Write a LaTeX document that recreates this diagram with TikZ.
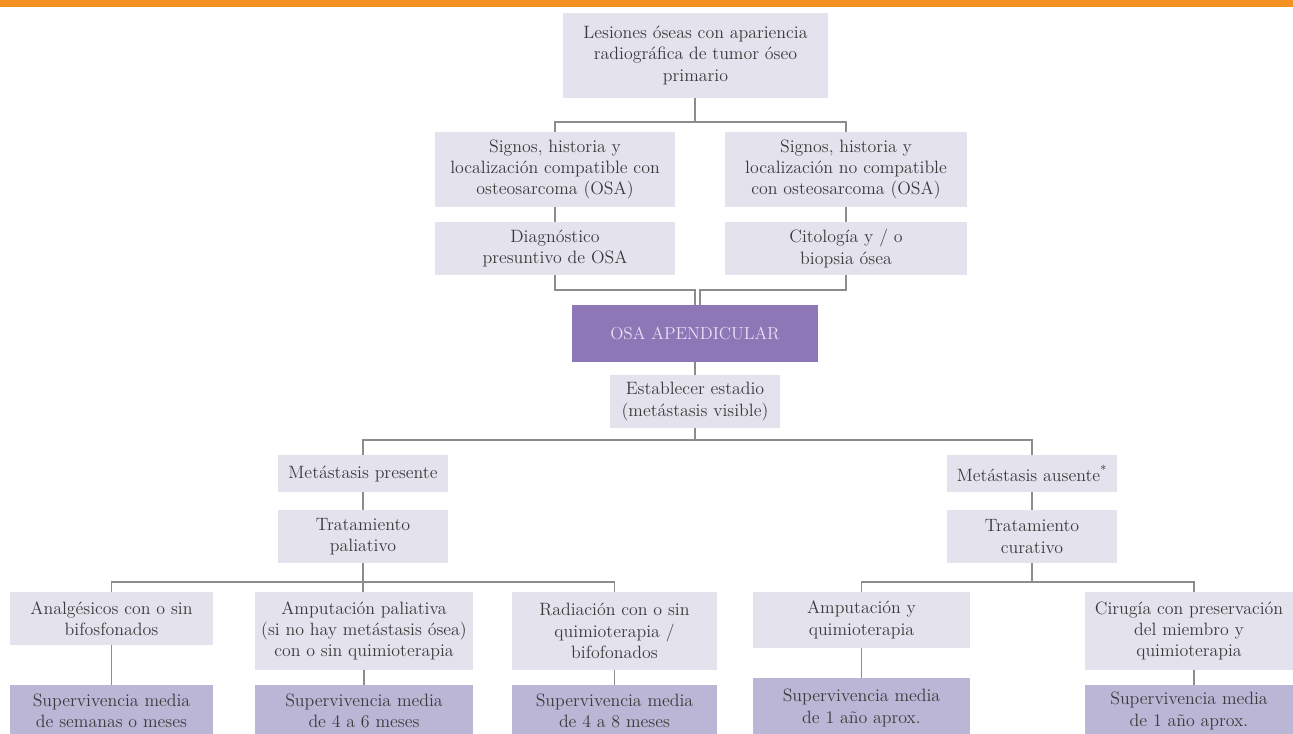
\documentclass[tikz,border=0pt]{standalone}
\definecolor{orangebar}{HTML}{F39122}
\definecolor{boxlight}{HTML}{E4E3ED}
\definecolor{boxsurv}{HTML}{BCB6D6}
\definecolor{boxpurple}{HTML}{8D77B7}
\definecolor{purpletext}{HTML}{E8E0F4}
\definecolor{linegrey}{HTML}{8C8C8C}
\definecolor{textgrey}{HTML}{3A3A3A}
\begin{document}
\begin{tikzpicture}[x=0.75pt,y=-0.75pt,
  box/.style={fill=boxlight, inner sep=0pt, align=center, text=textgrey,
    font=\fontsize{13.4}{16}\selectfont},
  wh/.style 2 args={minimum width=#1pt, minimum height=#2pt},
  surv/.style={box, fill=boxsurv},
  osabox/.style={box, fill=boxpurple, text=purpletext, font=\fontsize{13}{15}\selectfont},
  conn/.style={draw=linegrey, line width=1.3pt}]
\useasboundingbox (0,0) rectangle (1293,733);
\clip (0,0) rectangle (1293,733);
\fill[orangebar] (0,0) rectangle (1293,7);

% boxes
\node[box, wh={198.75}{63.75}] (top) at (695.5,55.5) {Lesiones óseas con apariencia\\radiográfica de tumor óseo\\primario};
\node[box, wh={180}{56.25}] (sigL) at (555,169.5) {Signos, historia y\\localización compatible con\\osteosarcoma (OSA)};
\node[box, wh={181.5}{56.25}] (sigR) at (846,169.5) {Signos, historia y\\localización no compatible\\con osteosarcoma (OSA)};
\node[box, wh={180}{39.75}] (diag) at (555,248.5) {Diagnóstico\\presuntivo de OSA};
\node[box, wh={181.5}{39.75}] (cito) at (846,248.5) {Citología y / o\\biopsia ósea};
\node[osabox, wh={184.5}{42.75}] (osa) at (695,333.5) {OSA APENDICULAR};
\node[box, wh={127.5}{39.75}] (estadio) at (695,401.5) {Establecer estadio\\(metástasis visible)};
\node[box, wh={127.5}{27.75}] (metP) at (363,473.5) {Metástasis presente};
\node[box, wh={127.5}{27.75}] (metA) at (1032,473.5) {Metástasis ausente\textsuperscript{*}};
\node[box, wh={127.5}{39.75}] (tratP) at (363,536.5) {Tratamiento\\paliativo};
\node[box, wh={127.5}{39.75}] (tratC) at (1032,536.5) {Tratamiento\\curativo};

\node[box, wh={152.25}{39.75}] (analg) at (111.5,618.5) {Analgésicos con o sin\\bifosfonados};
\node[box, wh={163.5}{58.5}] (amputP) at (364,631) {Amputación paliativa\\(si no hay metástasis ósea)\\con o sin quimioterapia};
\node[box, wh={153.75}{58.5}] (radia) at (614.5,631) {Radiación con o sin\\quimioterapia /\\bifofonados};
\node[box, wh={162.75}{42}] (amputQ) at (861.5,620) {Amputación y\\quimioterapia};
\node[box, wh={156}{58.5}] (ciru) at (1189,631) {Cirugía con preservación\\del miembro y\\quimioterapia};

\node[surv, wh={152.25}{39}] (s1) at (111.5,711) {Supervivencia media\\de semanas o meses};
\node[surv, wh={163.5}{39}] (s2) at (364,711) {Supervivencia media\\de 4 a 6 meses};
\node[surv, wh={153.75}{39}] (s3) at (614.5,711) {Supervivencia media\\de 4 a 8 meses};
\node[surv, wh={162.75}{45}] (s4) at (861.5,708) {Supervivencia media\\de 1 año aprox.};
\node[surv, wh={156}{39}] (s5) at (1189,711) {Supervivencia media\\de 1 año aprox.};

% junctions
\coordinate (j1) at (695,122);
\coordinate (j2) at (695,290);
\coordinate (j2b) at (700,290);
\coordinate (j3) at (695,440);
\coordinate (j4) at (363,582);
\coordinate (j5) at (1032,582);
\coordinate (cv) at (1194,582);

% connectors
\draw[conn] (top.south -| j1) -- (j1);
\draw[conn] (sigL.north) |- (j1) -| (sigR.north);
\draw[conn] (sigL) -- (diag);
\draw[conn] (sigR) -- (cito);
\draw[conn] (diag.south) |- (j2) -- (j2 |- osa.north);
\draw[conn] (cito.south) |- (j2b) -- (j2b |- osa.north);
\draw[conn] (osa.south -| j2) -- (estadio.north -| j2);
\draw[conn] (estadio.south -| j3) -- (j3);
\draw[conn] (metP.north) |- (j3) -| (metA.north);
\draw[conn] (metP) -- (tratP);
\draw[conn] (metA) -- (tratC);
\draw[conn] (tratP.south -| j4) -- (j4);
\draw[conn] (analg.north) |- (j4) -| (radia.north);
\draw[conn] (j4) -- (j4 |- amputP.north);
\draw[conn] (tratC.south -| j5) -- (j5);
\draw[conn] (amputQ.north) |- (j5) -- (cv) -- (cv |- ciru.north);
\draw[conn] (analg) -- (s1);
\draw[conn] (amputP) -- (s2);
\draw[conn] (radia) -- (s3);
\draw[conn] (amputQ) -- (s4);
\draw[conn] (cv |- ciru.south) -- (cv |- s5.north);
\end{tikzpicture}
\end{document}
